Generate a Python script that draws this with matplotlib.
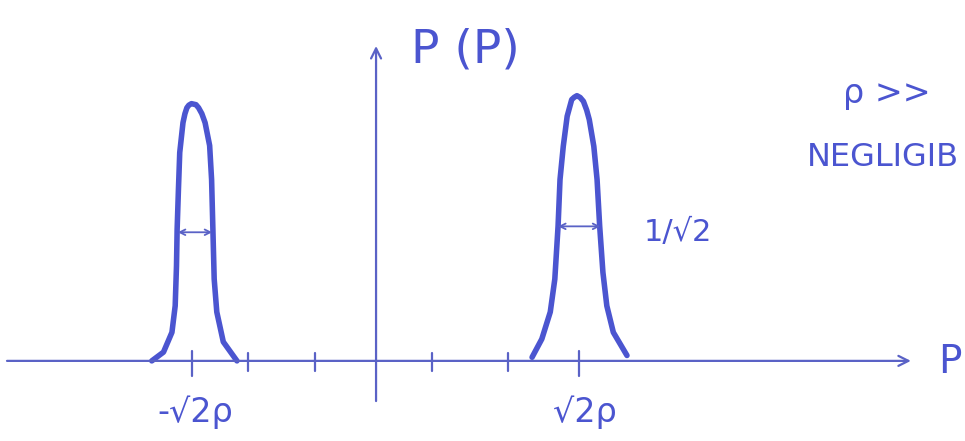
import matplotlib.pyplot as plt

# =========================
# Data (x in tick units, y as fraction of peak height)
# =========================
left_peak_x = [-3.45, -3.27, -3.14, -3.09, -3.07, -3.06, -3.04, -3.02, -2.97, -2.94,
               -2.91, -2.88, -2.84, -2.77, -2.73, -2.68, -2.63, -2.56, -2.53, -2.51,
               -2.49, -2.45, -2.35, -2.14]
left_peak_y = [0.0, 0.034, 0.111, 0.214, 0.369, 0.512, 0.667, 0.810, 0.926, 0.961,
               0.984, 0.994, 1.0, 0.996, 0.984, 0.961, 0.926, 0.837, 0.705, 0.512,
               0.318, 0.190, 0.074, 0.0]

right_peak_x = [2.40, 2.55, 2.68, 2.75, 2.80, 2.83, 2.88, 2.94, 3.01, 3.05,
                3.09, 3.14, 3.19, 3.24, 3.28, 3.35, 3.40, 3.44, 3.49, 3.55,
                3.65, 3.86]
right_peak_y = [0.014, 0.085, 0.190, 0.318, 0.524, 0.705, 0.834, 0.951, 1.016, 1.025,
                1.031, 1.024, 1.009, 0.975, 0.938, 0.834, 0.705, 0.524, 0.344, 0.214,
                0.111, 0.021]

tick_x = [-2.83, -1.97, -0.94, 0.86, 2.03, 3.12]
tick_major = [True, False, False, False, False, True]

# half-width arrows: (x_start, x_end, y)
width_left = (-3.05, -2.52, 0.50)
width_right = (2.80, 3.45, 0.523)

peak_labels = ["-√2ρ", "√2ρ"]
peak_label_x = [-2.78, 3.22]

pen = "#4b55d0"
pen_light = "#5a62c6"

# =========================
# Figure
# =========================
fig = plt.figure(figsize=(9.65, 4.41), dpi=100)
ax = fig.add_axes([0, 0, 1, 1])
ax.set_xlim(-5.785, 9.06)
ax.set_ylim(-0.3115, 1.403)
ax.axis("off")

# axes arrows
ax.annotate("", xy=(8.27, 0.0), xytext=(-5.72, 0.0),
            arrowprops=dict(arrowstyle="->", color=pen_light, lw=1.6,
                            mutation_scale=18))
ax.annotate("", xy=(0.0, 1.235), xytext=(0.0, -0.167),
            arrowprops=dict(arrowstyle="->", color=pen_light, lw=1.6,
                            mutation_scale=18))

# ticks
for tx, big in zip(tick_x, tick_major):
    lo, hi = (-0.06, 0.04) if big else (-0.04, 0.03)
    ax.plot([tx, tx], [lo, hi], color=pen_light, lw=1.6, solid_capstyle="round")

# peaks
ax.plot(left_peak_x, left_peak_y, color=pen, lw=4.0,
        solid_joinstyle="round", solid_capstyle="round")
ax.plot(right_peak_x, right_peak_y, color=pen, lw=4.0,
        solid_joinstyle="round", solid_capstyle="round")

# width arrows
for x0, x1, yy in [width_left, width_right]:
    ax.annotate("", xy=(x1, yy), xytext=(x0, yy),
                arrowprops=dict(arrowstyle="<->", color=pen_light, lw=1.3,
                                mutation_scale=10, shrinkA=0, shrinkB=0))

# =========================
# Text
# =========================
hand = ["Liberation Sans Narrow", "DejaVu Sans"]
ax.text(1.37, 1.21, "P (P)", color=pen, fontsize=34, ha="center", va="center",
        family=hand)
ax.text(8.83, -0.005, "P", color=pen, fontsize=28, ha="center", va="center",
        family=hand)
ax.text(7.86, 1.04, "ρ >>", color=pen, fontsize=24, ha="center", va="center",
        family=hand)
ax.text(6.62, 0.79, "NEGLIGIB", color=pen, fontsize=23, ha="left", va="center",
        family=hand)
ax.text(4.12, 0.50, "1/√2", color=pen, fontsize=22, ha="left", va="center",
        family=hand)
for lbl, lx in zip(peak_labels, peak_label_x):
    ax.text(lx, -0.20, lbl, color=pen, fontsize=24, ha="center", va="center",
            family=hand)

plt.savefig("out.png", dpi=100)
